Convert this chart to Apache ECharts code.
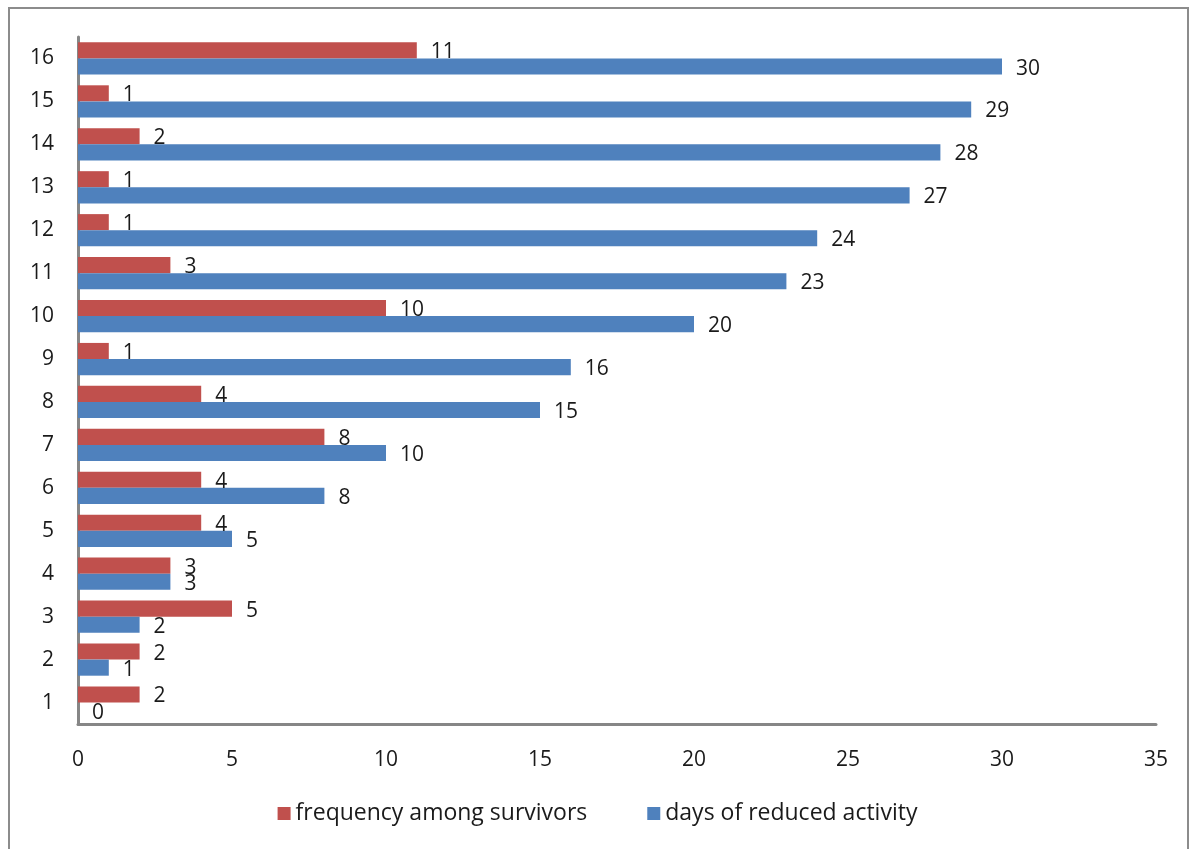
<!DOCTYPE html>
<html><head><meta charset="utf-8">
<script src="https://cdn.jsdelivr.net/npm/echarts@6/dist/echarts.min.js"></script>
<style>html,body{margin:0;padding:0;background:#fff}#c{width:1195px;height:849px}
#frame{position:absolute;left:8px;top:7px;width:1181px;height:850px;border:2px solid #8c8c8c;box-sizing:border-box;pointer-events:none}</style>
</head><body><div id="c"></div><div id="frame"></div>
<script>
const categories = ['1','2','3','4','5','6','7','8','9','10','11','12','13','14','15','16'];
const frequencyAmongSurvivors = [2,2,5,3,4,4,8,4,1,10,3,1,1,2,1,11];
const daysOfReducedActivity = [0,1,2,3,5,8,10,15,16,20,23,24,27,28,29,30];
const xTicks = [0,5,10,15,20,25,30,35];
const seriesNames = ['frequency among survivors','days of reduced activity'];

const font = '"Open Sans", sans-serif';
const chart = echarts.init(document.getElementById('c'));
const lbl = {show:true, position:'right', distance:14, offset:[0,2], color:'#1a1a1a', fontSize:21, fontFamily:font};
chart.setOption({
  animation:false,
  grid:{left:78, right:39, top:37, bottom:125},
  legend:{bottom:19, left:'center', itemWidth:13, itemHeight:13, itemGap:60, icon:'rect',
    textStyle:{fontSize:23, color:'#1a1a1a', fontFamily:font}, data:seriesNames},
  xAxis:{type:'value', min:xTicks[0], max:xTicks[xTicks.length-1], interval:5,
    axisLine:{show:true, lineStyle:{color:'#868686', width:3}},
    axisTick:{show:false}, splitLine:{show:false},
    axisLabel:{fontSize:21, color:'#1a1a1a', fontFamily:font, margin:26}},
  yAxis:{type:'category', data:categories,
    axisLine:{lineStyle:{color:'#868686', width:3}}, axisTick:{show:false},
    axisLabel:{fontSize:21, color:'#1a1a1a', fontFamily:font, margin:24}},
  series:[
    {name:seriesNames[0], type:'bar', data:frequencyAmongSurvivors, itemStyle:{color:'#C0504D'},
      barGap:'0%', barCategoryGap:'25%', label:lbl},
    {name:seriesNames[1], type:'bar', data:daysOfReducedActivity, itemStyle:{color:'#4F81BD'},
      barGap:'0%', barCategoryGap:'25%', label:lbl}
  ]
});
</script></body></html>
